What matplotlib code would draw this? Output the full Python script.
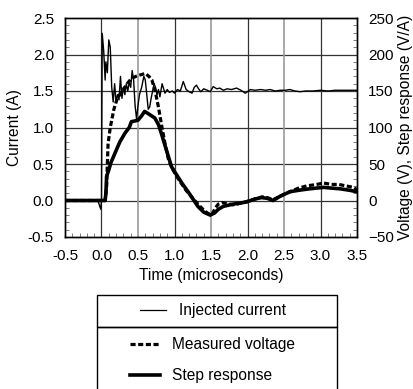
import matplotlib
matplotlib.use("Agg")
import matplotlib.pyplot as plt
from matplotlib.lines import Line2D
from matplotlib.patches import Rectangle
from matplotlib.ticker import MultipleLocator

plt.rcParams['font.family'] = ['Liberation Sans', 'DejaVu Sans']
plt.rcParams['font.size'] = 11

# injected current (A)
t_cur = [-0.5, -0.05, -0.01, 0.0, 0.01, 0.03, 0.05, 0.06, 0.08, 0.10, 0.12, 0.14,
         0.16, 0.18, 0.20, 0.22, 0.24, 0.26, 0.28, 0.30, 0.32, 0.34, 0.36, 0.38,
         0.40, 0.42, 0.44, 0.46, 0.48, 0.50, 0.52, 0.55, 0.58, 0.60, 0.62, 0.64,
         0.66, 0.68, 0.70, 0.72, 0.74, 0.76, 0.78, 0.80, 0.83, 0.87, 0.90, 0.93,
         0.97, 1.00, 1.04, 1.08, 1.12, 1.16, 1.20, 1.24, 1.27, 1.30, 1.33, 1.36,
         1.40, 1.45, 1.49, 1.53, 1.58, 1.62, 1.67, 1.72, 1.78, 1.85, 1.91, 1.97,
         2.04, 2.10, 2.18, 2.25, 2.31, 2.38, 2.45, 2.52, 2.58, 2.65, 2.72, 2.80,
         2.90, 3.00, 3.10, 3.20, 3.30, 3.40, 3.50]
current = [0.0, 0.0, -0.12, 0.0, 2.29, 2.05, 1.65, 1.9, 1.75, 2.2, 2.1, 1.55,
           1.35, 1.6, 1.35, 1.45, 1.38, 1.7, 1.4, 1.55, 1.45, 1.6, 1.5, 1.62,
           1.55, 1.78, 1.65, 1.3, 1.12, 1.3, 1.45, 1.55, 1.7, 1.65, 1.45, 1.25,
           1.28, 1.4, 1.5, 1.6, 1.55, 1.45, 1.52, 1.42, 1.6, 1.47, 1.52, 1.48,
           1.5, 1.47, 1.52, 1.5, 1.63, 1.52, 1.49, 1.47, 1.55, 1.58, 1.53, 1.49,
           1.53, 1.51, 1.49, 1.56, 1.53, 1.54, 1.51, 1.53, 1.52, 1.54, 1.51, 1.47,
           1.52, 1.51, 1.52, 1.51, 1.52, 1.50, 1.51, 1.51, 1.52, 1.50, 1.49, 1.50,
           1.50, 1.51, 1.50, 1.51, 1.51, 1.51, 1.51]

# measured voltage (V)
t_volt = [-0.5, 0.05, 0.07, 0.09, 0.12, 0.14, 0.17, 0.21, 0.25, 0.30, 0.35, 0.41,
          0.47, 0.53, 0.60, 0.65, 0.69, 0.73, 0.76, 0.78, 0.82, 0.87, 0.92, 0.98,
          1.05, 1.15, 1.25, 1.35, 1.42, 1.48, 1.52, 1.56, 1.60, 1.65, 1.72, 1.80,
          1.90, 2.00, 2.10, 2.20, 2.27, 2.35, 2.45, 2.58, 2.70, 2.81, 2.95, 3.04,
          3.15, 3.25, 3.35, 3.45, 3.50]
voltage = [0, 0, 20, 78, 100, 110, 125, 138, 145, 152, 160, 167,
           170, 172, 174, 170, 165, 152, 138, 128, 105, 78, 55, 42,
           30, 15, 3, -8, -15, -19, -18, -10, -5, -3, -4, -6,
           -4, -1, 2, 5, 4, 1, 6, 12, 17, 20, 22, 24,
           22, 22, 20, 18, 15]

# step response (V/A)
t_step = [-0.5, 0.05, 0.06, 0.07, 0.10, 0.13, 0.185, 0.25, 0.32, 0.38, 0.41, 0.46,
          0.50, 0.55, 0.59, 0.64, 0.73, 0.78, 0.82, 0.88, 0.96, 1.03, 1.10, 1.20,
          1.32, 1.40, 1.49, 1.55, 1.60, 1.67, 1.80, 1.99, 2.10, 2.19, 2.27, 2.35,
          2.45, 2.58, 2.70, 2.85, 3.04, 3.15, 3.27, 3.40, 3.50]
step = [0, 0, 10, 33, 42, 52, 65, 80, 92, 100, 108, 109,
        110, 116, 122, 119, 113, 104, 92, 72, 46, 35, 24, 10,
        -8, -16, -20, -17, -12, -8, -5, -2, 2, 4, 3, 0,
        6, 12, 14, 16, 18, 17, 16, 14, 12]

fig = plt.figure(figsize=(4.14, 3.89), dpi=100)
ax = fig.add_axes([65 / 414, 1 - 237 / 389, 292 / 414, 219 / 389])
ax2 = ax.twinx()

# grid
for y in [0, 0.5, 1.0, 1.5, 2.0]:
    ax.axhline(y, color='#333333', lw=0.9, zorder=0)
for x in [0, 1, 2, 3]:
    ax.axvline(x, color='#333333', lw=0.9, zorder=0)
for x in [0.5, 1.5, 2.5]:
    ax.axvline(x, color='#999999', lw=1.2, zorder=0)

ax.plot(t_cur, current, color='black', lw=1.0, zorder=3)
ax2.plot(t_volt, voltage, color='black', lw=2.3, dashes=(1.6, 0.8), zorder=3)
ax2.plot(t_step, step, color='black', lw=2.6, zorder=3)

ax.set_xlim(-0.5, 3.5)
ax.set_ylim(-0.5, 2.5)
ax2.set_ylim(-50, 250)

ax.xaxis.set_major_locator(MultipleLocator(0.5))
ax.xaxis.set_minor_locator(MultipleLocator(0.1))
ax.yaxis.set_major_locator(MultipleLocator(0.5))
ax.yaxis.set_minor_locator(MultipleLocator(0.1))
ax2.yaxis.set_major_locator(MultipleLocator(50))
ax2.yaxis.set_minor_locator(MultipleLocator(10))
ax.xaxis.set_major_formatter(lambda v, p: f"{v:.1f}")
ax.yaxis.set_major_formatter(lambda v, p: f"{v:.1f}")

ax.tick_params(axis='x', which='major', direction='in', length=0, pad=9, labelsize=11)
ax.tick_params(axis='y', which='major', direction='in', length=0, pad=8, labelsize=11)
ax.tick_params(which='minor', direction='in', length=3, color='#666666')
ax2.tick_params(which='major', direction='in', length=0, pad=8, labelsize=11)
ax2.tick_params(which='minor', direction='in', length=3, color='#666666')

for a in (ax, ax2):
    for s in a.spines.values():
        s.set_linewidth(1.0)

ax.set_xlabel("Time (microseconds)", fontsize=11.2, labelpad=3)
ax.set_ylabel("Current (A)", fontsize=11.2, labelpad=4)
ax2.set_ylabel("Voltage (V), Step response (V/A)", fontsize=11.2, labelpad=3)

# legend boxes
fig.add_artist(Rectangle((97 / 414, 1 - 327 / 389), 240 / 414, 32 / 389,
                         transform=fig.transFigure, fill=False, lw=1.0, color='black'))
fig.add_artist(Rectangle((97 / 414, -0.1), 240 / 414, 1 - 327 / 389 + 0.1,
                         transform=fig.transFigure, fill=False, lw=1.0, color='black'))

h1 = [Line2D([], [], color='black', lw=0.9)]
fig.legend(h1, ["Injected current"], loc='center', bbox_to_anchor=(213 / 414, 1 - 311 / 389),
           frameon=False, fontsize=11.2, handlelength=1.7, handletextpad=0.8,
           borderpad=0, borderaxespad=0)
h2 = [Line2D([], [], color='black', lw=2.3, dashes=(1.6, 0.8)),
      Line2D([], [], color='black', lw=2.6)]
fig.legend(h2, ["Measured voltage", "Step response"], loc='upper left',
           bbox_to_anchor=(130 / 414, 1 - 337 / 389), frameon=False, fontsize=11.2,
           handlelength=1.9, handletextpad=0.8, labelspacing=1.05,
           borderpad=0, borderaxespad=0)

fig.savefig("out.png", dpi=100)
